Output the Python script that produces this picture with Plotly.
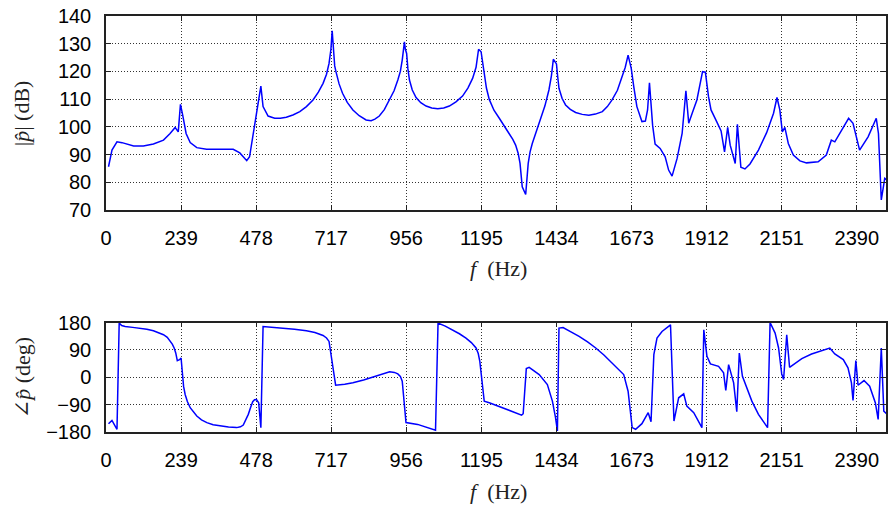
import plotly.graph_objects as go
from plotly.subplots import make_subplots

# ---- data ----
freq_mag = [8, 19, 35, 51, 88, 119, 151, 183, 204, 220, 230, 237, 244, 255, 268, 289, 320, 363, 405, 426,
            448, 457, 473, 486, 493, 500, 516, 537, 555, 574, 595, 617, 638, 659, 676, 691, 702, 710, 716, 720,
            724, 728, 732, 742, 753, 768, 786, 806, 828, 844, 856, 870, 886, 903, 917, 929, 937, 943, 950, 953,
            957, 961, 966, 975, 987, 1002, 1019, 1037, 1056, 1075, 1093, 1114, 1135, 1152, 1167, 1178, 1186,
            1194, 1199, 1204, 1211, 1220, 1235, 1252, 1268, 1283, 1295, 1304, 1312, 1318, 1325, 1330, 1336,
            1344, 1350, 1357, 1370, 1384, 1397, 1410, 1418, 1424, 1434, 1438, 1442, 1452, 1463, 1478, 1495,
            1516, 1537, 1558, 1580, 1596, 1611, 1628, 1643, 1653,
            1662, 1672, 1680, 1690, 1706, 1717, 1724, 1730, 1740, 1748, 1764, 1780, 1791, 1802, 1818, 1834, 1846,
            1855, 1866, 1881, 1899, 1908, 1918, 1926, 1944, 1958, 1969, 1979, 1987, 2003, 2010, 2021, 2034, 2050,
            2077, 2103, 2125, 2136, 2145, 2153, 2161, 2172, 2188, 2209, 2230, 2267, 2293, 2309, 2320, 2341, 2364,
            2378, 2389, 2399, 2426, 2452, 2459, 2468, 2479, 2487]
mag_db = [85.6, 91.6, 94.6, 94.3, 93.1, 93.1, 93.8, 95.2, 97.6, 99.8, 98.2, 108.1, 104.3, 97.6, 94.3, 92.5, 91.9,
          92.0, 91.9, 90.6, 87.8, 89.2, 100, 110.3, 114.7, 107.3, 103.9, 103.1, 103.1, 103.5, 104.3, 105.5, 107.3,
          109.7, 112.5, 115.7, 119.0, 122.9, 128.0, 134.7, 127.0, 122.0, 119.9, 115.5, 112.1, 108.8, 106.1, 104.0,
          102.5, 102.2, 102.8, 103.9, 106.2, 109.7, 113.0, 116.9, 120.0, 124.1, 130.7, 128.0, 126.5, 121.0, 116.9,
          113.3, 110.6, 108.7, 107.5, 106.8, 106.5, 106.8, 107.5, 109.0, 111.1, 114.0, 117.5, 121.5, 128.0,
          127.1, 123.0, 119.3, 114.0, 109.9, 106.0, 103.1, 100.5, 97.6, 95.5, 93.4, 90.5, 86.8, 78.4, 77.0, 75.6,
          86.8, 91.0, 94.0, 98.3, 102.5, 107.5, 113.3, 118.5, 124.4, 122.7, 118.0, 113.9, 110.2, 107.9, 106.3,
          105.2, 104.5, 104.2, 104.6, 105.5, 107.3, 109.7, 113.2, 118.1, 121.5,
          125.9, 121.1, 114.5, 107.3,
          101.9, 102.1, 106.1, 115.9, 100.6, 93.8, 92.2, 89.2, 84.4, 82.2, 88.6, 97.6, 113.0, 101.3, 104.9, 109.7,
          119.9, 119.7, 110.9, 106.1, 101.9, 98.5, 91.0, 99.8, 93.4, 86.8, 100.9, 85.4, 84.8, 86.6, 91.6, 97.9,
          104.9, 110.6, 106.1, 98.2, 99.8, 94.0, 89.8, 87.7, 87.0, 87.4, 89.8, 95.2, 94.6, 98.6, 103.1, 101.3,
          96.4, 91.6, 96.4, 103.1, 97.6, 73.6, 81.4, 80.8]

freq_phase = [8, 19, 35, 42, 50, 61, 85, 109, 130, 151, 168, 183, 195, 204, 211, 217, 222, 227, 234, 239, 243,
              247, 252, 259, 268, 278, 289, 304, 321, 341, 363, 390, 416, 428, 437, 445, 453, 460, 467, 473, 479,
              486, 493, 500, 530, 564, 600, 638, 665, 691, 702, 710, 717, 731, 760, 786, 820, 850, 878, 903, 918,
              929, 937, 943, 955, 992, 1049, 1057, 1080, 1103, 1125, 1146, 1163, 1178, 1185, 1190, 1197, 1204,
              1220, 1273, 1323, 1328, 1338, 1347, 1379, 1405, 1421, 1431, 1437, 1442, 1455, 1480, 1506, 1533,
              1559, 1585, 1611, 1630, 1648, 1662, 1670, 1675, 1686, 1706, 1726, 1735,
              1744, 1754, 1770, 1797, 1808, 1823, 1839, 1849, 1871, 1892, 1897, 1903, 1913, 1924, 1950, 1966,
              1973, 1982, 1998, 2008, 2016, 2026, 2056, 2077, 2106, 2114, 2130, 2141, 2151, 2157, 2167, 2176,
              2215, 2246, 2278, 2304, 2320, 2347, 2362, 2373, 2378, 2387, 2394, 2413, 2431, 2449, 2458, 2468,
              2476, 2487]
phase_deg = [-152.6, -141.7, -171, 178, 170, 167, 164, 161.6, 158, 152.9, 147, 139.8, 131, 120.1, 109, 96.2, 80,
             54.7, 57.9, 63.4, -2, -30, -56.6, -80, -100.2, -115, -127.6, -140, -149.3, -156, -160.3, -163.5,
             -165.6, -163, -157, -142, -122, -100, -80.5, -74, -73, -83.8, -165.6, 167, 164.5, 161.6, 158, 152.9,
             147, 137.5, 129, 117.8, 63.5, -26.2, -23, -18.3, -9, 0, 10, 17.7, 16, 11, 3, -13, -149, -155, -174.5,
             178, 168, 156, 143, 128.8, 114, 96.2, 78, 52.4, -13, -78.5, -83.9, -105.7, -124.4, -120, 28.5, 32.7,
             8.8, -24, -78.5, -133, -176.7, 161.6, 163.6, 149, 134.2, 116, 96.2, 73, 47, 30, 8.8, -45.8, -111,
             -165.6, -171, -152.6, -116.6, -146, 74.3, 128.8, 150.6, 172.5,
             -144, -67.5, -54.4, -94.9, -116.6, -154.8, -165.6, 156, 68.7, 43.9, 36, 14.4, -43.5, 41.6, -18.3,
             -113.2, 79.8, 3.3, -78.5, -122, -165.6, 180, 145.3, 96.2, 11, -7.6, 139.8, 32.7, 61.2, 76.6, 87.4,
             96.2, 76.6, 57.9, 30.8, -18.3, -76.3, 54.7, -26.2, -10.8, -29.5, -83.8, -138.4, 96.2, -111.3, -122]

x_ticks = [0, 239, 478, 717, 956, 1195, 1434, 1673, 1912, 2151, 2390]
mag_ticks = [70, 80, 90, 100, 110, 120, 130, 140]
phase_ticks = [-180, -90, 0, 90, 180]

fig = make_subplots(rows=2, cols=1, vertical_spacing=0.0)
fig.add_trace(go.Scatter(x=freq_mag, y=mag_db, mode="lines",
                         line=dict(color="#0000ff", width=1.5), showlegend=False), row=1, col=1)
fig.add_trace(go.Scatter(x=freq_phase, y=phase_deg, mode="lines",
                         line=dict(color="#0000ff", width=1.5), showlegend=False), row=2, col=1)

tickfont = dict(family="Liberation Sans, Arial, sans-serif", size=20, color="black")
common = dict(showline=True, linecolor="#222", linewidth=1.5, mirror="ticks", ticks="inside",
              ticklen=5, tickwidth=1.2, tickcolor="#222", showgrid=True, gridcolor="rgba(0,0,0,0.8)",
              griddash="1px,2px", gridwidth=1, zeroline=False, tickfont=tickfont, ticklabelstandoff=9)

fig.update_xaxes(range=[0, 2483], tickvals=x_ticks, ticktext=[str(v) for v in x_ticks], **common)
fig.update_yaxes(**common)
fig.update_yaxes(range=[70, 140], tickvals=mag_ticks, row=1, col=1)
fig.update_yaxes(range=[-180, 180], tickvals=phase_ticks, row=2, col=1)

fig.update_layout(
    width=889, height=505,
    margin=dict(l=106, r=1, t=16, b=73),
    paper_bgcolor="white", plot_bgcolor="white",
    xaxis=dict(domain=[0, 1]), xaxis2=dict(domain=[0, 1]),
    yaxis=dict(domain=[0.5337, 1.0]),
    yaxis2=dict(domain=[0.0, 0.2632]),
)

titlefont = dict(family="Liberation Serif, DejaVu Serif, serif", size=22, color="#222")
annots = [
    dict(text="|<i>p̂</i>| (dB)", x=(22 - 106) / 782, y=1 - (113 - 16) / 416, textangle=-90),
    dict(text="∠<i>p̂</i> (deg)", x=(22 - 106) / 782, y=1 - (378 - 16) / 416, textangle=-90),
    dict(text="<i>f</i>  (Hz)", x=(500 - 106) / 782, y=1 - (268 - 16) / 416, textangle=0),
    dict(text="<i>f</i>  (Hz)", x=(500 - 106) / 782, y=1 - (491 - 16) / 416, textangle=0),
]
for a in annots:
    fig.add_annotation(xref="paper", yref="paper", xanchor="center", yanchor="middle",
                       showarrow=False, font=titlefont, **a)

fig.write_html("out.html")
